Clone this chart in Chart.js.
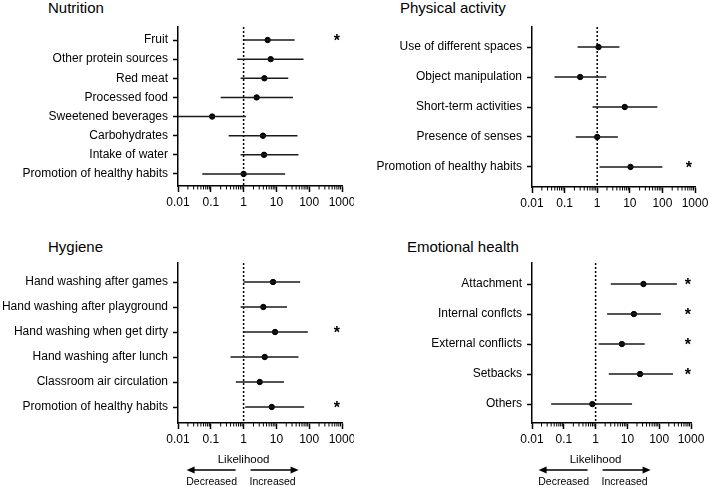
<!DOCTYPE html>
<html>
<head>
<meta charset="utf-8">
<script src="https://cdn.jsdelivr.net/npm/chart.js@4.4.1/dist/chart.umd.min.js"></script>
<style>
  body { margin: 0; background: #fff; font-family: "Liberation Sans", Arial, sans-serif; }
  #wrap { position: relative; width: 709px; height: 486px; overflow: hidden; }
  canvas { position: absolute; }
  .titulo { position: absolute; font-size: 15px; line-height: 15px; color: #000; white-space: nowrap; }
</style>
</head>
<body>
<div id="wrap">
  <div class="titulo" style="left:48px;top:0px">Nutrition</div>
  <div class="titulo" style="left:400px;top:0px">Physical activity</div>
  <div class="titulo" style="left:48px;top:239px">Hygiene</div>
  <div class="titulo" style="left:407px;top:239px">Emotional health</div>
  <canvas id="nutricao" width="354" height="243" style="left:0;top:0;width:354px;height:243px"></canvas>
  <canvas id="atividade" width="355" height="243" style="left:354px;top:0;width:355px;height:243px"></canvas>
  <canvas id="higiene" width="354" height="243" style="left:0;top:243px;width:354px;height:243px"></canvas>
  <canvas id="emocional" width="355" height="243" style="left:354px;top:243px;width:355px;height:243px"></canvas>
</div>
<script>
// eixo x (escala log)
const xTickValues = [0.01, 0.1, 1, 10, 100, 1000];
const xTickLabels = ['0.01', '0.1', '1', '10', '100', '1000'];

// Nutrition
const nutricaoLabels = ['Fruit', 'Other protein sources', 'Red meat', 'Processed food',
  'Sweetened beverages', 'Carbohydrates', 'Intake of water', 'Promotion of healthy habits'];
const nutricaoEst = [5.4, 6.7, 4.3, 2.5, 0.11, 3.9, 4.2, 1.0];
const nutricaoLow = [1.0, 0.64, 0.81, 0.20, 0.01, 0.35, 0.81, 0.055];
const nutricaoHigh = [36, 67, 23, 32, 1.18, 44, 47, 18.5];
const nutricaoSig = [true, false, false, false, false, false, false, false];

// Physical activity
const atividadeLabels = ['Use of different spaces', 'Object manipulation', 'Short-term activities',
  'Presence of senses', 'Promotion of healthy habits'];
const atividadeEst = [1.1, 0.30, 7.0, 1.0, 10.5];
const atividadeLow = [0.25, 0.049, 0.72, 0.22, 1.18];
const atividadeHigh = [4.8, 1.9, 70, 4.3, 100];
const atividadeSig = [false, false, false, false, true];

// Hygiene
const higieneLabels = ['Hand washing after games', 'Hand washing after playground', 'Hand washing when get dirty',
  'Hand washing after lunch', 'Classroom air circulation', 'Promotion of healthy habits'];
const higieneEst = [7.9, 4.0, 9.1, 4.4, 3.1, 7.2];
const higieneLow = [1.0, 0.81, 1.0, 0.40, 0.58, 1.12];
const higieneHigh = [53, 21, 91, 47, 17, 70];
const higieneSig = [false, false, true, false, false, true];

// Emotional health
const emocionalLabels = ['Attachment', 'Internal conflcts', 'External conflicts', 'Setbacks', 'Others'];
const emocionalEst = [32, 16, 6.7, 25, 0.79];
const emocionalLow = [3.0, 2.3, 1.24, 2.6, 0.04];
const emocionalHigh = [360, 113, 35, 270, 14];
const emocionalSig = [true, true, true, true, false];

const FONTE = '"Liberation Sans", Arial, sans-serif';

// linha pontilhada em 1, ticks menores, asteriscos e legenda "Likelihood"
const forestDecor = {
  id: 'forestDecor',
  beforeDatasetsDraw(chart) {
    const ctx = chart.ctx;
    const x = chart.scales.x.getPixelForValue(1);
    const area = chart.chartArea;
    ctx.save();
    ctx.strokeStyle = '#000';
    ctx.lineWidth = 1.5;
    ctx.setLineDash([2, 2]);
    ctx.beginPath();
    ctx.moveTo(x, area.top);
    ctx.lineTo(x, area.bottom);
    ctx.stroke();
    ctx.restore();
  },
  afterDraw(chart, args, opts) {
    const ctx = chart.ctx;
    const xs = chart.scales.x;
    const ys = chart.scales.y;
    const bottom = chart.chartArea.bottom;
    ctx.save();
    ctx.strokeStyle = '#000';
    ctx.lineWidth = 1;
    for (let d = 0.01; d < 999; d *= 10) {
      for (let k = 2; k <= 9; k++) {
        const px = xs.getPixelForValue(k * d);
        ctx.beginPath();
        ctx.moveTo(px, bottom);
        ctx.lineTo(px, bottom + 3.5);
        ctx.stroke();
      }
    }
    ctx.fillStyle = '#000';
    ctx.font = 'bold 16px ' + FONTE;
    ctx.textAlign = 'center';
    ctx.textBaseline = 'alphabetic';
    opts.sig.forEach((s, i) => {
      if (!s) return;
      ctx.fillText('*', xs.getPixelForValue(opts.starValue), ys.getPixelForValue(i) + 6);
    });
    if (opts.likelihood) {
      const x1 = xs.getPixelForValue(1);
      ctx.textBaseline = 'middle';
      ctx.font = '11.5px ' + FONTE;
      ctx.fillText('Likelihood', x1, 217);
      ctx.font = '10.5px ' + FONTE;
      ctx.fillText('Decreased', x1 - 32, 239);
      ctx.fillText('Increased', x1 + 29, 239);
      const ya = 227;
      ctx.lineWidth = 1.3;
      ctx.beginPath();
      ctx.moveTo(x1 - 8, ya); ctx.lineTo(x1 - 52, ya);
      ctx.moveTo(x1 + 7, ya); ctx.lineTo(x1 + 50, ya);
      ctx.stroke();
      ctx.beginPath();
      ctx.moveTo(x1 - 57, ya); ctx.lineTo(x1 - 49, ya - 3.5); ctx.lineTo(x1 - 49, ya + 3.5); ctx.closePath();
      ctx.moveTo(x1 + 55, ya); ctx.lineTo(x1 + 47, ya - 3.5); ctx.lineTo(x1 + 47, ya + 3.5); ctx.closePath();
      ctx.fill();
    }
    ctx.restore();
  }
};

function criarPainel(id, labels, est, low, high, sig, geo) {
  const canvas = document.getElementById(id);
  const W = canvas.width, H = canvas.height;
  const n = labels.length;

  const ciData = [];
  for (let i = 0; i < n; i++) {
    ciData.push({ x: low[i], y: i }, { x: high[i], y: i }, { x: null, y: null });
  }
  const estData = est.map((v, i) => ({ x: v, y: i }));

  new Chart(canvas, {
    type: 'scatter',
    data: {
      datasets: [
        {
          type: 'line',
          data: ciData,
          borderColor: '#1a1a1a',
          borderWidth: 1.5,
          pointRadius: 0,
          spanGaps: false,
          fill: false
        },
        {
          data: estData,
          backgroundColor: '#000',
          borderColor: '#000',
          pointRadius: 2.7,
          pointHoverRadius: 2.7
        }
      ]
    },
    options: {
      responsive: false,
      animation: false,
      events: [],
      layout: { padding: { left: 0, top: geo.top, right: W - geo.right, bottom: 0 } },
      plugins: {
        legend: { display: false },
        tooltip: { enabled: false },
        forestDecor: { sig: sig, starValue: geo.star, likelihood: geo.likelihood }
      },
      scales: {
        x: {
          type: 'logarithmic',
          min: 0.01,
          max: 1000,
          afterBuildTicks: s => { s.ticks = xTickValues.map(v => ({ value: v })); },
          afterFit: s => { s.height = H - geo.bottom; s.paddingLeft = 0; s.paddingRight = 0; },
          ticks: {
            autoSkip: false,
            maxRotation: 0,
            padding: 3,
            color: '#000',
            font: { family: FONTE, size: 12 },
            callback: (v, i) => xTickLabels[i]
          },
          grid: { drawOnChartArea: false, tickLength: 6, tickColor: '#000', tickWidth: 1.5 },
          border: { color: '#000', width: 1.5 }
        },
        y: {
          type: 'linear',
          reverse: true,
          min: -geo.padTop,
          max: n - 1 + geo.padBottom,
          afterBuildTicks: s => { s.ticks = labels.map((l, i) => ({ value: i })); },
          afterFit: s => { s.width = geo.left; },
          ticks: {
            autoSkip: false,
            padding: 5,
            color: '#000',
            font: { family: FONTE, size: 12 },
            callback: v => labels[v]
          },
          grid: { drawOnChartArea: false, tickLength: 5, tickColor: '#000', tickWidth: 1.5 },
          border: { color: '#000', width: 1.5 }
        }
      }
    },
    plugins: [forestDecor]
  });
}

criarPainel('nutricao', nutricaoLabels, nutricaoEst, nutricaoLow, nutricaoHigh, nutricaoSig,
  { left: 178, right: 342, top: 27, bottom: 186, padTop: 0.68, padBottom: 0.63, star: 700, likelihood: false });
criarPainel('atividade', atividadeLabels, atividadeEst, atividadeLow, atividadeHigh, atividadeSig,
  { left: 178, right: 341, top: 27, bottom: 187, padTop: 0.67, padBottom: 0.67, star: 650, likelihood: false });
criarPainel('higiene', higieneLabels, higieneEst, higieneLow, higieneHigh, higieneSig,
  { left: 178, right: 342, top: 20, bottom: 180, padTop: 0.76, padBottom: 0.64, star: 700, likelihood: true });
criarPainel('emocional', emocionalLabels, emocionalEst, emocionalLow, emocionalHigh, emocionalSig,
  { left: 178, right: 337, top: 20, bottom: 180, padTop: 0.7, padBottom: 0.63, star: 800, likelihood: true });
</script>
</body>
</html>
